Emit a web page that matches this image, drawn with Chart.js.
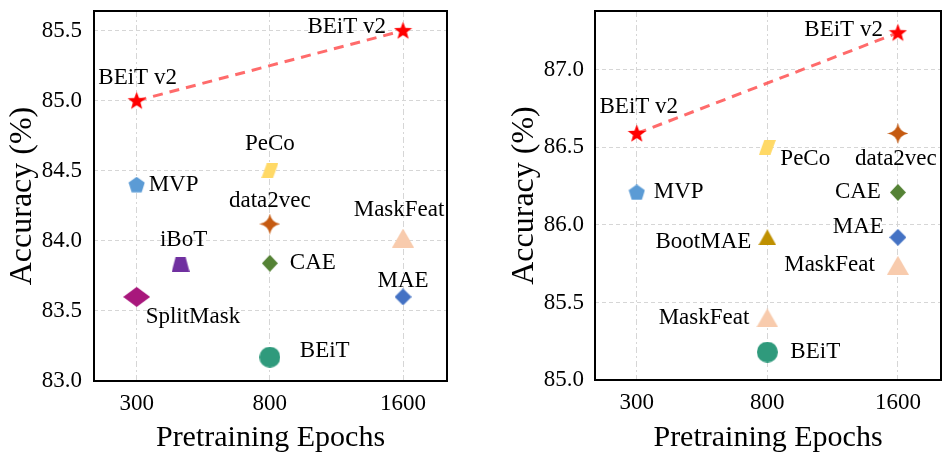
<!DOCTYPE html>
<html>
<head>
<meta charset="utf-8">
<script src="https://cdn.jsdelivr.net/npm/chart.js@4/dist/chart.umd.min.js"></script>
<style>
  html, body { margin: 0; padding: 0; background: #fff; overflow: hidden; }
  #wrap { display: flex; width: 952px; height: 453px; }
  canvas { display: block; flex: none; }
</style>
</head>
<body>
<div id="wrap">
  <canvas id="leftChart" width="474" height="453"></canvas>
  <canvas id="rightChart" width="478" height="453"></canvas>
</div>
<script>
// x positions are slots on the epoch axis (0 -> 300, 1 -> 800, 2 -> 1600)
const epochTicks = [300, 800, 1600];

// left panel
const leftMethods = ['BEiT v2', 'BEiT v2', 'MVP', 'PeCo', 'data2vec', 'MaskFeat', 'iBoT', 'CAE', 'SplitMask', 'MAE', 'BEiT'];
const leftEpochSlot = [0, 2, 0, 1, 1, 2, 0.33, 1, 0, 2, 1];
const leftAcc = [85.0, 85.5, 84.4, 84.5, 84.12, 84.02, 83.83, 83.84, 83.6, 83.6, 83.17];
const leftYTicks = [83.0, 83.5, 84.0, 84.5, 85.0, 85.5];

// right panel
const rightMethods = ['BEiT v2', 'BEiT v2', 'MVP', 'PeCo', 'data2vec', 'CAE', 'MAE', 'BootMAE', 'MaskFeat', 'MaskFeat', 'BEiT'];
const rightEpochSlot = [0, 2, 0, 1, 2, 2, 2, 1, 2, 1, 1];
const rightAcc = [86.59, 87.24, 86.21, 86.5, 86.59, 86.21, 85.92, 85.92, 85.74, 85.4, 85.18];
const rightYTicks = [85.0, 85.5, 86.0, 86.5, 87.0];

const FONT = "'Liberation Serif', 'Times New Roman', serif";

// marker look per method
const markerStyle = {
    'BEiT v2':  { shape: 'star5', color: '#ff0000', w: 19, h: 19 },
    'MVP':      { shape: 'pentagon', color: '#5b9bd5', w: 17, h: 16 },
    'PeCo':     { shape: 'parallelogram', color: '#ffd966', w: 17, h: 15 },
    'data2vec': { shape: 'star4', color: '#c55a11', w: 21, h: 21 },
    'MaskFeat': { shape: 'triangle', color: '#f8cbad', w: 22, h: 19 },
    'iBoT':     { shape: 'trapezoid', color: '#7030a0', w: 18, h: 15 },
    'CAE':      { shape: 'diamond', color: '#548235', w: 16, h: 17 },
    'SplitMask':{ shape: 'diamond', color: '#a8177c', w: 27, h: 20 },
    'MAE':      { shape: 'diamond', color: '#4472c4', w: 17, h: 17 },
    'BEiT':     { shape: 'circle', color: '#2f9a7c', w: 21, h: 21 },
    'BootMAE':  { shape: 'triangle', color: '#bf9000', w: 18, h: 16 }
};

// label offset from its point: [dx, dy, align]
const leftLabelPos = [
    [1, -23, 'center'], [-17, -4, 'right'], [12, 0, 'left'], [0, -27, 'center'],
    [0, -23, 'center'], [-4, -28, 'center'], [3, -25, 'center'], [20, 0, 'left'],
    [9, 20, 'left'], [0, -16, 'center'], [30, -6, 'left']
];
const rightLabelPos = [
    [2, -27, 'center'], [-15, -3, 'right'], [17, 0, 'left'], [13, 12, 'left'],
    [-2, 25, 'center'], [-17, 0, 'right'], [-14, -10, 'right'], [-16, 5, 'right'],
    [-23, 0, 'right'], [-18, 0, 'right'], [23, 0, 'left']
];

function makeMarker(style) {
    const c = document.createElement('canvas');
    c.width = style.w;
    c.height = style.h;
    const g = c.getContext('2d');
    const w = style.w, h = style.h, cx = w / 2, cy = h / 2;
    g.fillStyle = style.color;
    g.beginPath();
    if (style.shape === 'star5' || style.shape === 'pentagon') {
        const n = style.shape === 'star5' ? 10 : 5;
        const ro = w / 2;
        const ri = style.shape === 'star5' ? ro * 0.42 : ro;
        for (let i = 0; i < n; i++) {
            const r = (style.shape === 'star5' && i % 2 === 1) ? ri : ro;
            const a = -Math.PI / 2 + i * 2 * Math.PI / n;
            const px = cx + r * Math.cos(a);
            const py = cy + 0.5 + r * Math.sin(a);
            if (i === 0) g.moveTo(px, py); else g.lineTo(px, py);
        }
    } else if (style.shape === 'parallelogram') {
        g.moveTo(w * 0.32, 0); g.lineTo(w, 0); g.lineTo(w * 0.68, h); g.lineTo(0, h);
    } else if (style.shape === 'star4') {
        g.moveTo(cx, 0);
        g.quadraticCurveTo(cx + 1.5, cy - 1.5, w, cy);
        g.quadraticCurveTo(cx + 1.5, cy + 1.5, cx, h);
        g.quadraticCurveTo(cx - 1.5, cy + 1.5, 0, cy);
        g.quadraticCurveTo(cx - 1.5, cy - 1.5, cx, 0);
    } else if (style.shape === 'triangle') {
        g.moveTo(cx, 0); g.lineTo(w, h); g.lineTo(0, h);
    } else if (style.shape === 'trapezoid') {
        g.moveTo(w * 0.22, 0); g.lineTo(w * 0.78, 0); g.lineTo(w, h); g.lineTo(0, h);
    } else if (style.shape === 'diamond') {
        g.moveTo(cx, 0); g.lineTo(w, cy); g.lineTo(cx, h); g.lineTo(0, cy);
    } else {
        g.arc(cx, cy, w / 2, 0, Math.PI * 2);
    }
    g.closePath();
    g.fill();
    return c;
}

// black frame round the plot area
const frame = {
    id: 'frame',
    afterDraw(chart) {
        const a = chart.chartArea, ctx = chart.ctx;
        ctx.save();
        ctx.strokeStyle = '#000';
        ctx.lineWidth = 2;
        ctx.strokeRect(a.left, a.top, a.right - a.left, a.bottom - a.top);
        ctx.restore();
    }
};

function labelPlugin(names, pos) {
    return {
        id: 'pointLabels',
        afterDatasetsDraw(chart) {
            const ctx = chart.ctx;
            const pts = chart.getDatasetMeta(1).data;
            ctx.save();
            ctx.font = '23px ' + FONT;
            ctx.fillStyle = '#000';
            ctx.textBaseline = 'middle';
            pts.forEach((p, i) => {
                ctx.textAlign = pos[i][2];
                ctx.fillText(names[i], p.x + pos[i][0], p.y + pos[i][1]);
            });
            ctx.restore();
        }
    };
}

function noPad(s) {
    s.paddingTop = 0;
    s.paddingBottom = 0;
    s.paddingLeft = 0;
    s.paddingRight = 0;
}

function createPanel(canvasId, names, slots, acc, yTicks, yMin, yMax, lay) {
    const points = names.map((n, i) => ({ x: slots[i], y: acc[i] }));
    const linePoints = points.filter((p, i) => names[i] === 'BEiT v2');
    const styles = names.map(n => makeMarker(markerStyle[n]));
    const canvas = document.getElementById(canvasId);
    const pad = { left: 0, top: lay.area.top, right: canvas.width - lay.area.right, bottom: 0 };

    const chart = new Chart(canvas.getContext('2d'), {
        type: 'scatter',
        data: {
            datasets: [{
                data: linePoints,
                showLine: true,
                borderColor: 'rgba(255, 70, 70, 0.8)',
                borderWidth: 3,
                borderDash: [10, 7],
                pointRadius: 0,
                order: 2
            }, {
                data: points,
                pointStyle: styles,
                pointRadius: 10,
                order: 1
            }]
        },
        options: {
            responsive: false,
            animation: false,
            events: [],
            layout: { padding: pad },
            plugins: {
                legend: { display: false },
                tooltip: { enabled: false }
            },
            scales: {
                x: {
                    type: 'linear',
                    min: -0.32,
                    max: 2.33,
                    afterBuildTicks: s => { s.ticks = epochTicks.map((t, i) => ({ value: i })); },
                    afterFit: s => { s.height = 453 - lay.area.bottom; noPad(s); },
                    ticks: {
                        color: '#000',
                        padding: 9,
                        font: { family: FONT, size: 23 },
                        callback: v => epochTicks[v]
                    },
                    grid: { color: '#d6d6d6', lineWidth: 1, drawTicks: false },
                    border: { display: false, dash: [6, 3, 2, 3] },
                    title: {
                        display: true,
                        text: 'Pretraining Epochs',
                        color: '#000',
                        padding: 0,
                        font: { family: FONT, size: 30, lineHeight: 1.0 }
                    }
                },
                y: {
                    min: yMin,
                    max: yMax,
                    afterBuildTicks: s => { s.ticks = yTicks.map(v => ({ value: v })); },
                    afterFit: s => { s.width = lay.area.left - lay.titleLeft; noPad(s); },
                    ticks: {
                        color: '#000',
                        padding: lay.tickPad,
                        font: { family: FONT, size: 23 },
                        callback: v => Number(v).toFixed(1)
                    },
                    grid: { color: '#d6d6d6', lineWidth: 1, drawTicks: false },
                    border: { display: false, dash: [4, 3] },
                    title: {
                        display: true,
                        text: 'Accuracy (%)',
                        color: '#000',
                        padding: 0,
                        font: { family: FONT, size: 32 }
                    }
                }
            }
        },
        plugins: [frame, labelPlugin(names, lay.labels)]
    });

    // nudge the layout padding until the plot area sits where it should
    for (let k = 0; k < 2; k++) {
        const a = chart.chartArea;
        pad.left += lay.area.left - a.left;
        pad.top += lay.area.top - a.top;
        pad.right += a.right - lay.area.right;
        pad.bottom += a.bottom - lay.area.bottom;
        chart.options.layout.padding = Object.assign({}, pad);
        chart.update();
    }
    return chart;
}

createPanel('leftChart', leftMethods, leftEpochSlot, leftAcc, leftYTicks, 83.0, 85.64, {
    area: { left: 94, top: 7, right: 447, bottom: 381 }, titleLeft: 3, tickPad: 12, labels: leftLabelPos
});
createPanel('rightChart', rightMethods, rightEpochSlot, rightAcc, rightYTicks, 85.0, 87.38, {
    area: { left: 121, top: 6, right: 473, bottom: 380 }, titleLeft: 31, tickPad: 11, labels: rightLabelPos
});
</script>
</body>
</html>
